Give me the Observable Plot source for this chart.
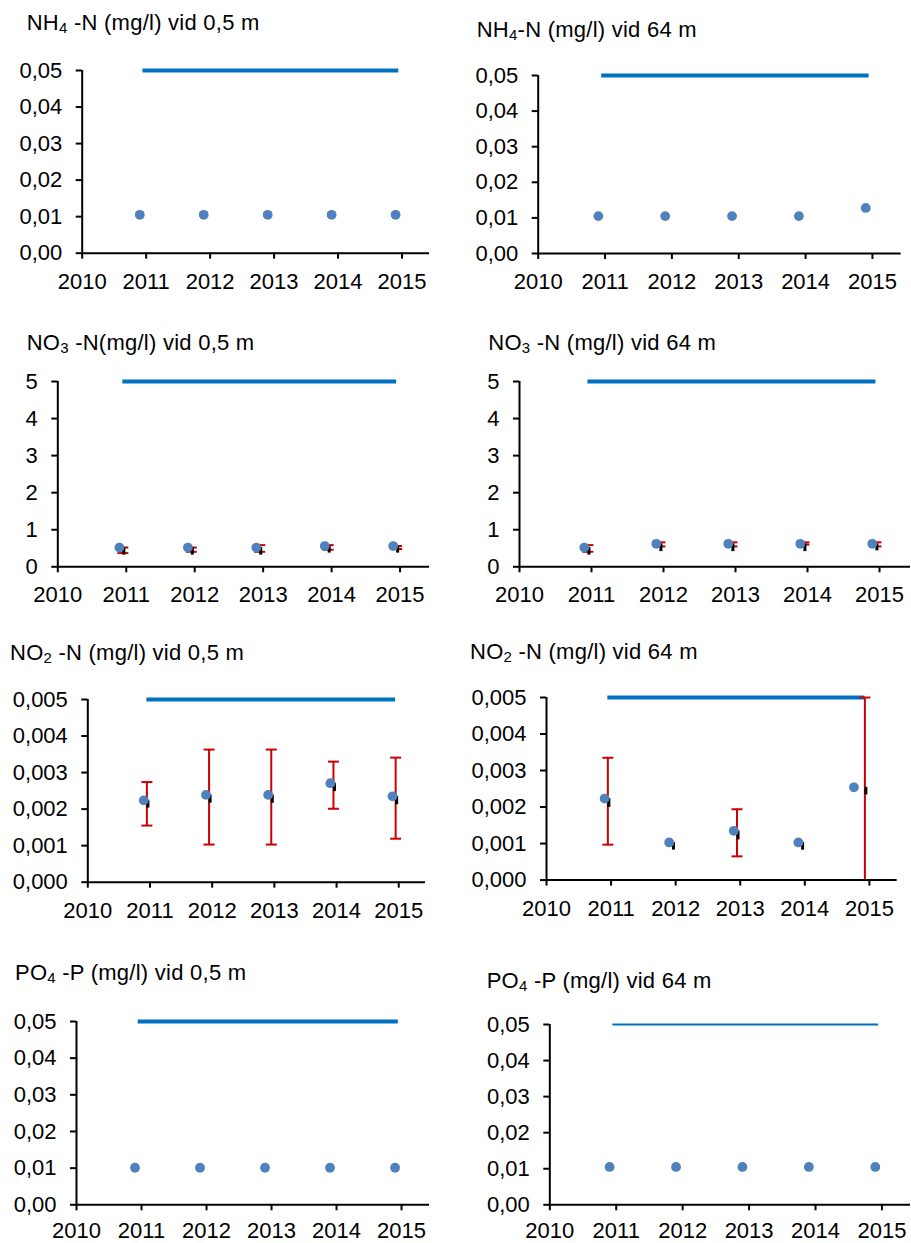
<!DOCTYPE html>
<html><head><meta charset="utf-8">
<script src="https://cdn.jsdelivr.net/npm/d3@7"></script>
<script src="https://cdn.jsdelivr.net/npm/@observablehq/plot@0.6"></script>
<style>
body{margin:0;background:#fff;}
#root{position:relative;width:911px;height:1243px;overflow:hidden;background:#fff;font-family:"Liberation Sans",Arial,sans-serif;}
.title{position:absolute;white-space:pre;font-size:22px;line-height:22px;letter-spacing:0.25px;color:#000;}
.title sub{font-size:15px;vertical-align:-3px;line-height:0;}
.panel{position:absolute;display:block;}
</style></head><body><div id="root"></div>
<script>
// ---- data ----
const years = [2011, 2012, 2013, 2014, 2015];
const xTicks = [2010, 2011, 2012, 2013, 2014, 2015];
const sampleDate = [2010.9, 2011.9, 2012.9, 2013.9, 2014.9];
const barDate = [2010.95, 2011.95, 2012.95, 2013.95, 2014.95];
const no2_64_sampleDate = [2010.9, 2011.9, 2012.9, 2013.9, 2014.76];
const no2_64_barDate = [2010.95, 2011.95, 2012.95, 2013.95, 2014.93];

const ticks005 = [0, 0.01, 0.02, 0.03, 0.04, 0.05];
const ticks5 = [0, 1, 2, 3, 4, 5];
const ticks0005 = [0, 0.001, 0.002, 0.003, 0.004, 0.005];

const nh4_05 = [0.0105, 0.0105, 0.0105, 0.0105, 0.0105];
const nh4_64 = [0.0105, 0.0105, 0.0105, 0.0105, 0.0128];

const no3_05 = [0.52, 0.52, 0.52, 0.56, 0.56];
const no3_05_lo = [0.37, 0.405, 0.405, 0.46, 0.48];
const no3_05_hi = [0.52, 0.52, 0.585, 0.585, 0.56];
const no3_05_min = [0.315, 0.315, 0.315, 0.37, 0.37];

const no3_64 = [0.52, 0.62, 0.62, 0.62, 0.62];
const no3_64_lo = [0.405, 0.55, 0.55, 0.6, 0.55];
const no3_64_hi = [0.585, 0.66, 0.66, 0.66, 0.66];
const no3_64_min = [0.315, 0.41, 0.41, 0.41, 0.43];

const no2_05 = [0.00224, 0.00239, 0.00239, 0.00271, 0.00235];
const no2_05_lo = [0.00155, 0.00103, 0.00103, 0.00201, 0.00119];
const no2_05_hi = [0.00274, 0.00363, 0.00363, 0.0033, 0.00341];
const no2_05_min = [0.00203, 0.00216, 0.00216, 0.00248, 0.00212];

const no2_64 = [0.00223, 0.00103, 0.00135, 0.00103, 0.00254];
const no2_64_lo = [0.00097, null, 0.00065, null, 0];
const no2_64_hi = [0.00335, null, 0.00194, null, 0.005];
const no2_64_min = [0.00199, 0.00082, 0.0011, 0.00082, 0.00233];

const po4_05 = [0.0101, 0.0101, 0.0101, 0.0101, 0.0101];
const po4_64 = [0.0105, 0.0105, 0.0105, 0.0105, 0.0105];

const limits = {nh4: 0.05, no3: 5, no2: 0.005, po4: 0.05};

// ---- drawing ----
const RED = "#CC0000", BLUE_LINE = "#0070C0", BLUE_DOT = "#4F81BD";
const capSymbol = {draw(ctx, size) { const w = Math.sqrt(size / Math.PI); ctx.moveTo(-w, 0); ctx.lineTo(w, 0); }};
const fmtDec = n => d => d3.format("." + n + "f")(d).replace(".", ",");

function panel(c) {
  const root = document.getElementById("root");
  const mt = 16, mb = c.mb || 46;
  const top = c.yt - mt;
  const width = c.xe + 2 - c.left;
  const height = (c.yb - top) + mb;
  const dX = c.dotX || sampleDate, bX = c.barX || barDate;
  const rows = years.map((y, i) => ({
    year: y, dotx: dX[i], barx: bX[i], mean: c.mean[i],
    lo: c.lo ? c.lo[i] : null, hi: c.hi ? c.hi[i] : null, mn: c.mn ? c.mn[i] : null
  }));
  const err = rows.filter(r => r.lo != null);
  const blk = rows.filter(r => r.mn != null);
  const marks = [
    Plot.ruleY([{y: c.limit, x1: bX[0], x2: bX[bX.length - 1]}], {y: "y", x1: "x1", x2: "x2", stroke: BLUE_LINE, strokeWidth: c.limitWidth || 4})
  ];
  if (err.length) {
    marks.push(
      Plot.ruleX(err, {x: "barx", y1: "lo", y2: "hi", stroke: RED, strokeWidth: 2}),
      Plot.dot(err.filter(r => r.lo > 0), {x: "barx", y: "lo", symbol: capSymbol, r: 5.5, fill: "none", stroke: RED, strokeWidth: 2}),
      Plot.dot(err, {x: "barx", y: "hi", symbol: capSymbol, r: 5.5, fill: "none", stroke: RED, strokeWidth: 2})
    );
  }
  if (blk.length) {
    marks.push(Plot.ruleX(blk, {x: "barx", y1: "mean", y2: "mn", stroke: "#000", strokeWidth: 3, dx: 1}));
  }
  marks.push(
    Plot.dot(rows, {x: "dotx", y: "mean", r: 4.9, fill: BLUE_DOT, stroke: "none"}),
    Plot.axisY({ticks: c.yTicks, tickFormat: c.fmt, tickSize: 6, tickPadding: 14, strokeWidth: 2, stroke: "#000", fill: "#000", label: null}),
    Plot.axisX({ticks: xTicks, tickFormat: d => String(d), tickSize: 6, tickPadding: c.xPad || 14, strokeWidth: 2, stroke: "#000", fill: "#000", label: null}),
    Plot.ruleX([2010], {stroke: "#000", strokeWidth: 2}),
    Plot.ruleY([0], {stroke: "#000", strokeWidth: 2})
  );
  const svg = Plot.plot({
    width, height,
    marginLeft: c.ax - c.left, marginRight: 2, marginTop: mt, marginBottom: mb,
    x: {domain: [2010, 2015.43]},
    y: {domain: [0, c.yMax]},
    style: {fontFamily: "Liberation Sans, Arial, sans-serif", fontSize: "22px", color: "#000", background: "transparent", overflow: "visible", maxWidth: "none"},
    marks
  });
  svg.classList.add("panel");
  svg.style.left = c.left + "px";
  svg.style.top = top + "px";
  svg.style.position = "absolute";
  root.appendChild(svg);
  const t = document.createElement("div");
  t.className = "title";
  t.innerHTML = c.title;
  t.style.left = c.tx + "px";
  t.style.top = (c.tb - 18.4) + "px";
  root.appendChild(t);
}

const panels = [
  {left: 0, ax: 81.7, yt: 70, yb: 252.7, xe: 429, yMax: 0.05, yTicks: ticks005, fmt: fmtDec(2), mean: nh4_05, limit: limits.nh4,
   title: "NH<sub>4</sub> -N (mg/l) vid 0,5 m", tx: 26.7, tb: 30},
  {left: 455, ax: 537.7, yt: 75.3, yb: 253.3, xe: 900.7, yMax: 0.05, yTicks: ticks005, fmt: fmtDec(2), mean: nh4_64, limit: limits.nh4,
   title: "NH<sub>4</sub>-N (mg/l) vid 64 m", tx: 476.7, tb: 37},
  {left: 0, ax: 57.3, yt: 380.7, yb: 566, xe: 429, yMax: 5, yTicks: ticks5, fmt: fmtDec(0), mean: no3_05, lo: no3_05_lo, hi: no3_05_hi, mn: no3_05_min, limit: limits.no3,
   title: "NO<sub>3</sub> -N(mg/l) vid 0,5 m", tx: 26.7, tb: 350},
  {left: 455, ax: 519, yt: 380.7, yb: 566, xe: 910, yMax: 5, yTicks: ticks5, fmt: fmtDec(0), mean: no3_64, lo: no3_64_lo, hi: no3_64_hi, mn: no3_64_min, limit: limits.no3,
   title: "NO<sub>3</sub> -N (mg/l) vid 64 m", tx: 488.3, tb: 350},
  {left: 0, ax: 87.3, yt: 699, yb: 881.7, xe: 425, yMax: 0.005, yTicks: ticks0005, fmt: fmtDec(3), mean: no2_05, lo: no2_05_lo, hi: no2_05_hi, mn: no2_05_min, limit: limits.no2,
   title: "NO<sub>2</sub> -N (mg/l) vid 0,5 m", tx: 10, tb: 660},
  {left: 455, ax: 546, yt: 696.7, yb: 879.3, xe: 896.7, yMax: 0.005, yTicks: ticks0005, fmt: fmtDec(3), mean: no2_64, lo: no2_64_lo, hi: no2_64_hi, mn: no2_64_min, limit: limits.no2,
   dotX: no2_64_sampleDate, barX: no2_64_barDate,
   title: "NO<sub>2</sub> -N (mg/l) vid 64 m", tx: 470, tb: 659.3},
  {left: 0, ax: 76, yt: 1020.7, yb: 1204, xe: 429, yMax: 0.05, yTicks: ticks005, fmt: fmtDec(2), mean: po4_05, limit: limits.po4,
   mb: 38.5, xPad: 12,
   title: "PO<sub>4</sub> -P (mg/l) vid 0,5 m", tx: 15, tb: 980.7},
  {left: 455, ax: 549.3, yt: 1024, yb: 1204.3, xe: 910, yMax: 0.05, yTicks: ticks005, fmt: fmtDec(2), mean: po4_64, limit: limits.po4, limitWidth: 2,
   mb: 38.5, xPad: 12,
   title: "PO<sub>4</sub> -P (mg/l) vid 64 m", tx: 486.7, tb: 988.3}
];
panels.forEach(panel);
</script>
</body></html>
